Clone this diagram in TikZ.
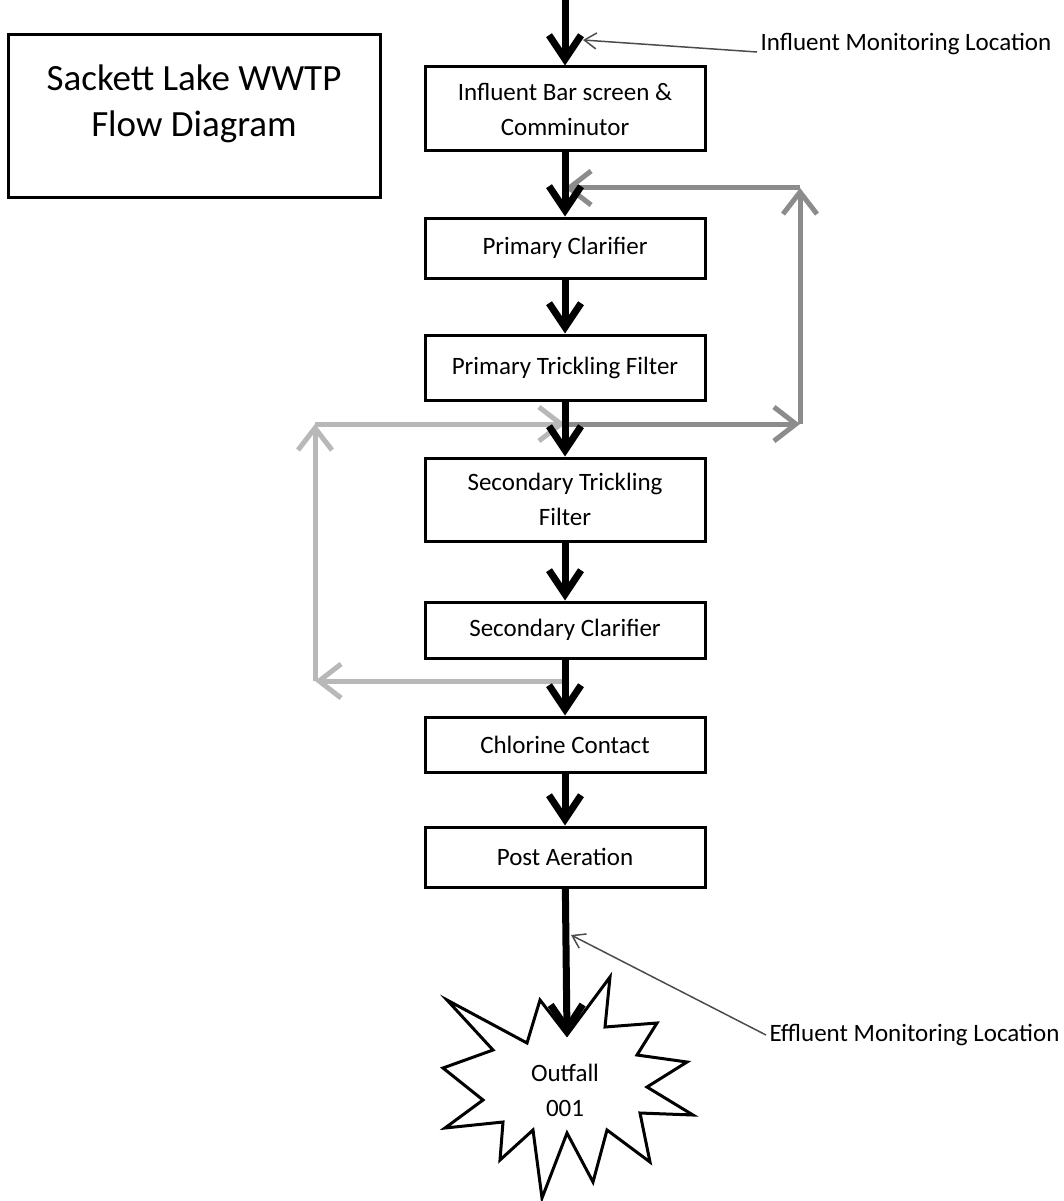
\documentclass[tikz,border=0pt]{standalone}
\usepackage{fontspec}
\setmainfont{Carlito}
\usetikzlibrary{arrows.meta}

\tikzset{
  unit/.style={draw=black, line width=3pt, fill=white, minimum width=280pt, align=center,
    font=\fontsize{25}{35}\selectfont},
  flow/.style={line width=7pt, -{Straight Barb[length=24pt,width=32pt]}},
  recycle/.style={line width=5pt, -{Straight Barb[length=22pt,width=34pt]}},
  pointer/.style={line width=1.5pt, black!70, -{Straight Barb[length=12pt,width=16pt]}},
  tag/.style={font=\fontsize{25}{30}\selectfont, anchor=west}
}

\begin{document}
\begin{tikzpicture}[x=1pt,y=-1pt]
\useasboundingbox (0,0) rectangle (1063,1201);

\coordinate (inlet) at (565,0);
\coordinate (j0) at (565,188);
\coordinate (j1) at (565,424);
\coordinate (j2) at (565,681);
\coordinate (rt) at (800,188);
\coordinate (rb) at (800,424);
\coordinate (lt) at (315,424);
\coordinate (lb) at (315,681);
\coordinate (inftip) at (583,40);
\coordinate (efftip) at (571,935);

% title
\node[draw=black, line width=3pt, minimum width=372pt, minimum height=163pt] (titlebox) at (194,116) {};
\node[align=center, font=\fontsize{37}{46}\selectfont] (title) at (194,104) {Sackett Lake WWTP\\Flow Diagram};

% recirculation loops
\draw[recycle, black!45] (j1) -- (rb);
\draw[recycle, black!45] (rb) -- (rt);
\draw[recycle, black!45] (rt) -- (j0);
\draw[recycle, black!28] (j2) -- (lb);
\draw[recycle, black!28] (lb) -- (lt);
\draw[recycle, black!28] (lt) -- (j1);

% process units
\node[unit, minimum height=84pt] (screen) at (565,109) {Influent Bar screen \&\\Comminutor};
\node[unit, minimum height=60pt] (primclar) at (565,248) {Primary Clarifier};
\node[unit, minimum height=65pt] (primtf) at (565,367.5) {Primary Trickling Filter};
\node[unit, minimum height=83pt] (sectf) at (565,499.5) {Secondary Trickling\\Filter};
\node[unit, minimum height=56pt] (secclar) at (565,630) {Secondary Clarifier};
\node[unit, minimum height=55pt] (chlor) at (565,744.5) {Chlorine Contact};
\node[unit, minimum height=60pt] (postair) at (565,857) {Post Aeration};

% outfall burst
\draw[line width=3pt, line join=miter, fill=white] (610,977) -- (605,1027) -- (657,1023) -- (637,1055)
  -- (687,1062) -- (647,1087) -- (693,1115) -- (640,1113) -- (650,1162) -- (607,1130)
  -- (593,1182) -- (567,1133) -- (542,1198) -- (533,1130) -- (500,1160) -- (503,1122)
  -- (445,1128) -- (483,1100) -- (443,1068) -- (493,1050) -- (447,1000) -- (527,1043)
  -- (540,1000) -- (567,1035) -- cycle;
\coordinate (burst) at (567,1035);
\node[align=center, font=\fontsize{25}{35}\selectfont] (outfall) at (565,1090) {Outfall\\001};

% main flow
\draw[flow] (inlet) -- (screen.north);
\draw[flow] (screen) -- (primclar);
\draw[flow] (primclar) -- (primtf);
\draw[flow] (primtf) -- (sectf);
\draw[flow] (sectf) -- (secclar);
\draw[flow] (secclar) -- (chlor);
\draw[flow] (chlor) -- (postair);
\draw[flow] (postair) -- (burst);

% monitoring points
\node[tag] (inflabel) at (757,44) {Influent Monitoring Location};
\draw[pointer] ([yshift=-8pt]inflabel.west) -- (inftip);
\node[tag] (efflabel) at (766,1035) {Effluent Monitoring Location};
\draw[pointer] (efflabel.west) -- (efftip);

\end{tikzpicture}
\end{document}
